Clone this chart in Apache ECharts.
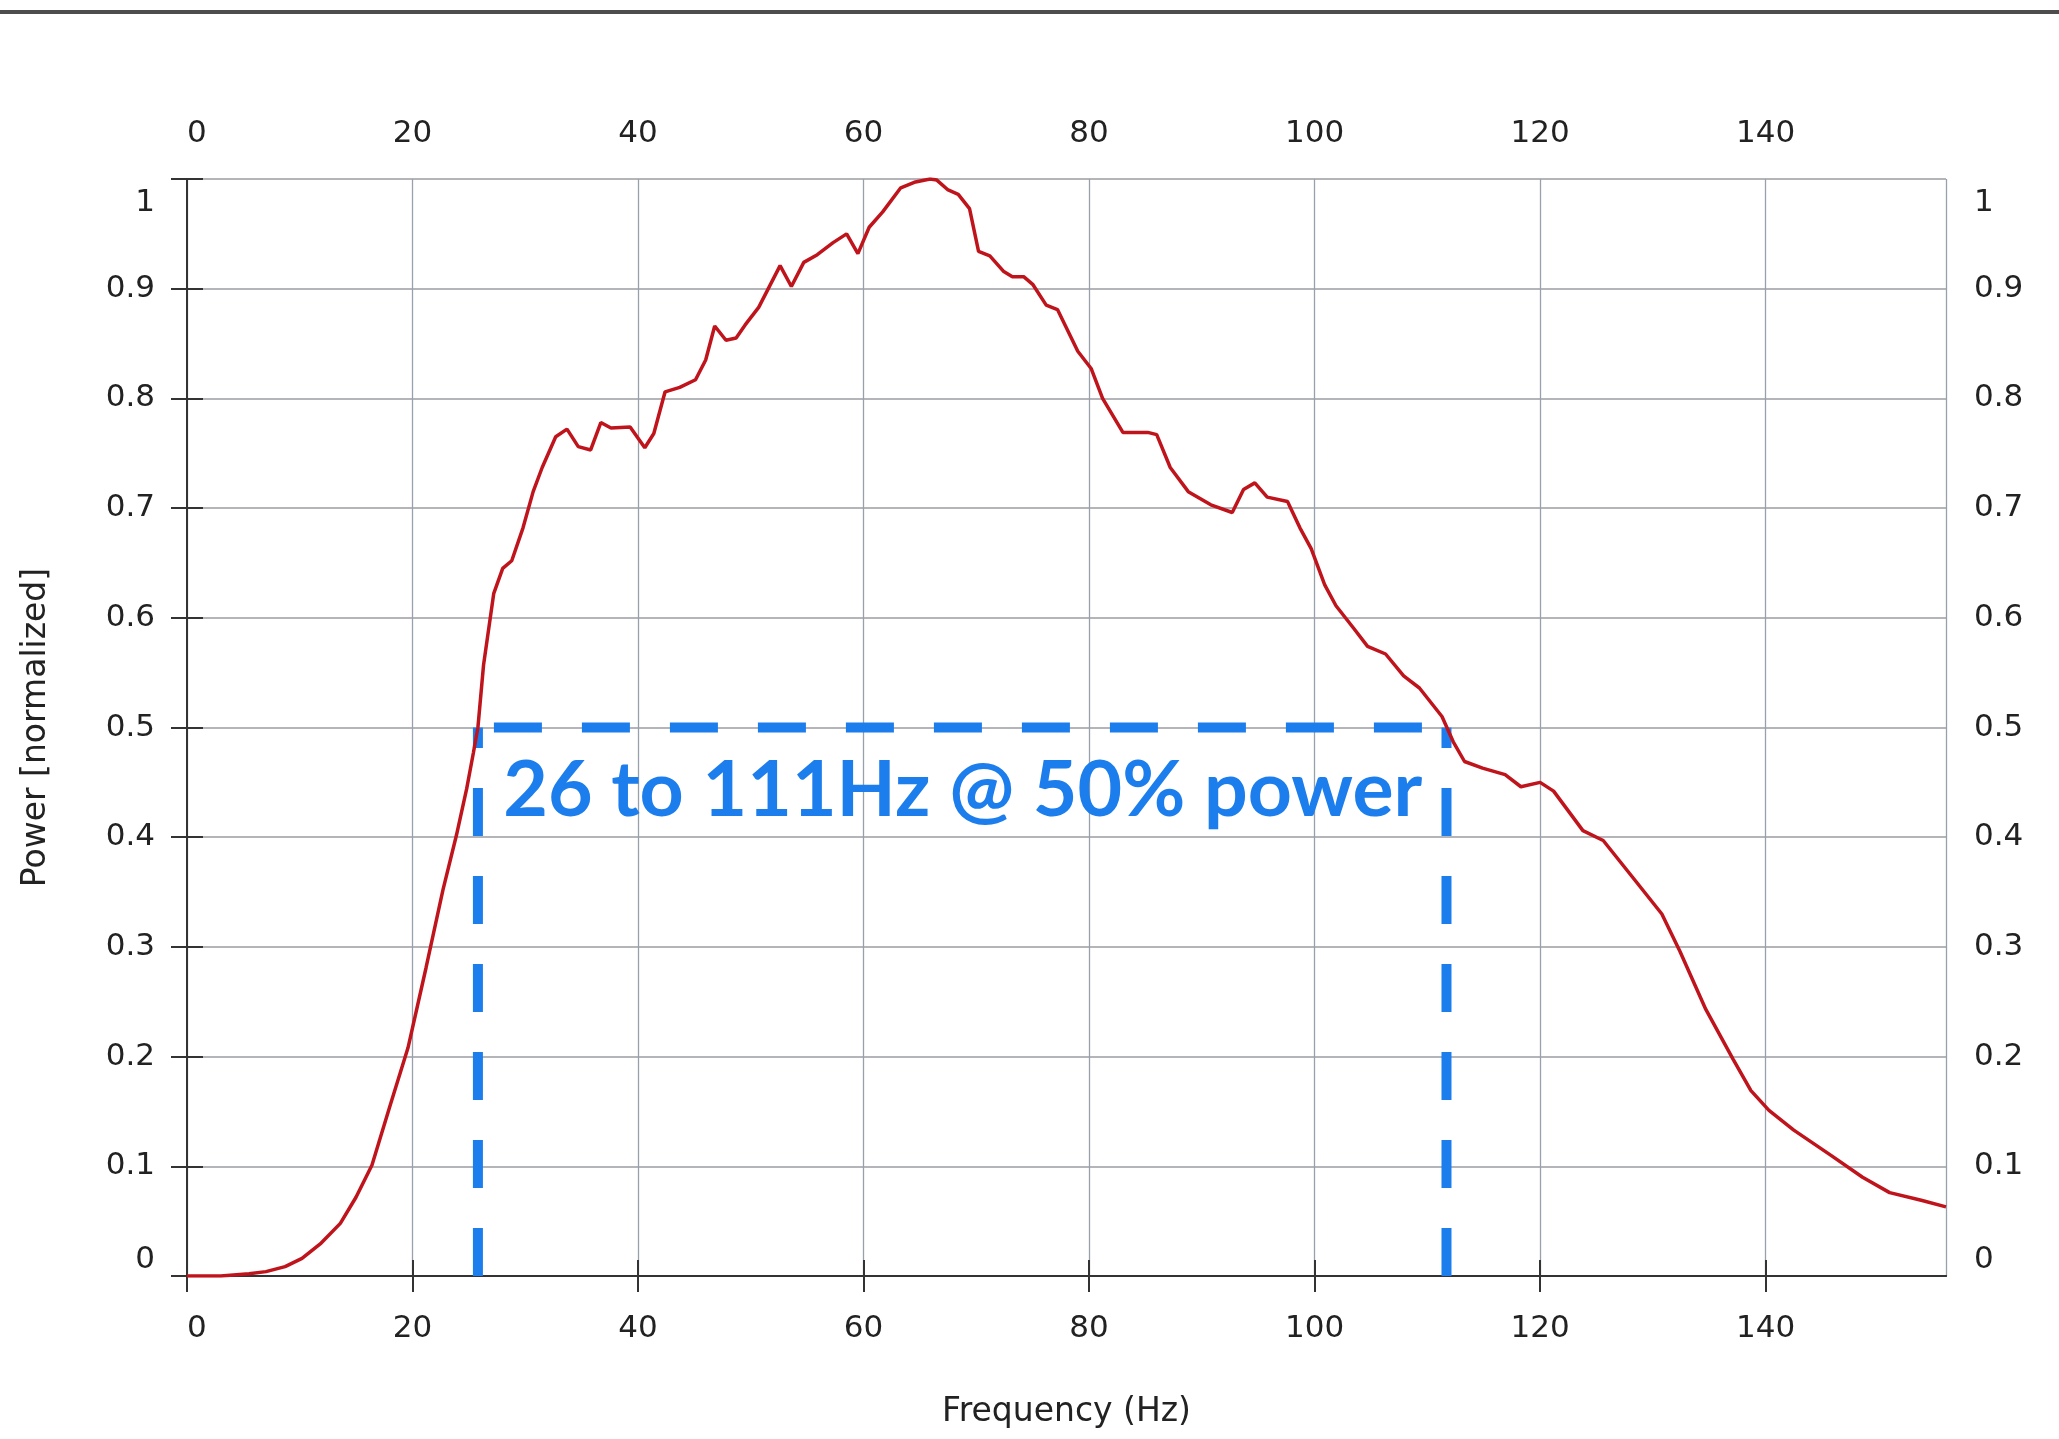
<!DOCTYPE html>
<html>
<head>
<meta charset="utf-8">
<title>Power vs Frequency</title>
<script src="https://cdn.jsdelivr.net/npm/echarts@6/dist/echarts.min.js"></script>
<style>
  html, body { margin: 0; padding: 0; background: #fff; }
  #chart { width: 2059px; height: 1439px; }
</style>
</head>
<body>
<div id="chart"></div>
<script>
// spectrum: frequency (Hz) and normalized power
const freq = [
  0, 3, 5.5, 7, 8.7, 10.2, 11.9, 13.6, 15, 16.4, 18, 19.6, 21.2, 22.7, 23.9, 24.8, 25.4, 25.8,
  26.3, 27.2, 28, 28.8, 29.8, 30.7, 31.5, 32.7, 33.7, 34.7, 35.8, 36.7, 37.6, 39.3, 40.6, 41.4,
  42.4, 43.7, 45.1, 46, 46.8, 47.8, 48.7, 49.5, 50.7, 52.6, 53.6, 54.7, 55.9, 57.3, 58.5, 59.5,
  60.5, 61.7, 63.3, 64.5, 65.9, 66.5, 67.5, 68.4, 69.4, 70.2, 71.2, 72.4, 73.2, 74.2, 75, 76.2,
  77.2, 79, 80.2, 81.2, 83, 85.2, 86, 87.2, 88.8, 90.8, 92.7, 93.7, 94.7, 95.8, 97.6, 98.7,
  99.7, 100.9, 101.9, 103.5, 104.7, 106.3, 107.9, 109.3, 111.3, 112.3, 113.3, 114.9, 116.9, 118.3,
  120, 121.2, 123.8, 125.6, 128.4, 130.8, 132.4, 134.7, 137.1, 138.7, 140.3, 142.5, 145.8, 148.6,
  151, 153.8, 156
];
const power = [
  0, 0, 0.002, 0.004, 0.0085, 0.016, 0.03, 0.048, 0.072, 0.101, 0.155, 0.208, 0.281, 0.352, 0.402, 0.444, 0.477, 0.5,
  0.557, 0.622, 0.645, 0.652, 0.682, 0.715, 0.737, 0.765, 0.772, 0.756, 0.753, 0.778, 0.773, 0.774, 0.755, 0.768,
  0.806, 0.81, 0.817, 0.835, 0.866, 0.853, 0.855, 0.867, 0.883, 0.921, 0.902, 0.924, 0.931, 0.942, 0.95, 0.932,
  0.956, 0.97, 0.992, 0.997, 1.0, 0.999, 0.99, 0.986, 0.973, 0.934, 0.93, 0.916, 0.911, 0.911, 0.904, 0.885,
  0.881, 0.843, 0.827, 0.8, 0.769, 0.769, 0.767, 0.737, 0.715, 0.703, 0.696, 0.717, 0.723, 0.71, 0.706, 0.682,
  0.663, 0.63, 0.611, 0.59, 0.574, 0.567, 0.547, 0.536, 0.51, 0.487, 0.469, 0.463, 0.457, 0.446,
  0.45, 0.442, 0.406, 0.397, 0.361, 0.33, 0.296, 0.243, 0.198, 0.169, 0.151, 0.133, 0.11, 0.09,
  0.076, 0.069, 0.063
];

// axis ranges
const xMin = 0, xMax = 156, xStep = 20;
const yMin = 0, yMax = 1, yStep = 0.1;

// half-power band annotation
const bandLow = 25.8;
const bandHigh = 111.7;
const bandLevel = 0.5;
const bandText = '26 to 111Hz @ 50% power';
const bandTextAt = [68.8, 0.442];

const FONT = 'DejaVu Sans';
const BLUE = '#1c7ded';
const RED = '#bf141c';
const AXIS = '#333333';

const chart = echarts.init(document.getElementById('chart'));

const axisLine = { show: true, lineStyle: { color: AXIS, width: 2 } };
const axisTick = { show: true, length: 16, lineStyle: { color: AXIS, width: 2 } };
const tickFont = { fontFamily: FONT, fontSize: 31, color: '#222' };
const nameFont = { fontFamily: FONT, fontSize: 33, color: '#222' };

function xAxisCfg(pos, grid) {
  return {
    type: 'value', position: pos, min: xMin, max: xMax, interval: xStep,
    axisLine, axisTick,
    axisLabel: { ...tickFont, margin: pos === 'bottom' ? 37 : 30, showMaxLabel: false, alignMinLabel: 'left' },
    splitLine: { show: grid, lineStyle: { color: '#97a0ab', width: 1.3 } }
  };
}
function yAxisCfg(pos, grid) {
  return {
    type: 'value', position: pos, min: yMin, max: yMax, interval: yStep,
    axisLine, axisTick,
    axisLabel: {
      ...tickFont, lineHeight: 32, padding: [8, 0, 0, 0], margin: pos === 'left' ? 32 : 28,
      verticalAlignMaxLabel: 'top', verticalAlignMinLabel: 'bottom'
    },
    splitLine: { show: grid, lineStyle: { color: '#b3b5b8', width: 2 } }
  };
}

const dash = { color: BLUE, width: 10, type: [48, 40], cap: 'butt' };

chart.setOption({
  animation: false,
  backgroundColor: '#fff',
  grid: { left: 187, right: 113, top: 179, bottom: 163, outerBoundsMode: 'none' },
  graphic: [{
    type: 'line', shape: { x1: 0, y1: 12, x2: 2059, y2: 12 },
    style: { stroke: '#4d4d4d', lineWidth: 4 }, silent: true
  }],
  xAxis: [
    { ...xAxisCfg('bottom', true), name: 'Frequency (Hz)', nameLocation: 'middle', nameGap: 120, nameTextStyle: nameFont },
    xAxisCfg('top', false)
  ],
  yAxis: [
    { ...yAxisCfg('left', true), name: 'Power [normalized]', nameLocation: 'middle', nameGap: 134, nameTextStyle: nameFont },
    yAxisCfg('right', false)
  ],
  series: [
    {
      type: 'line', silent: true, showSymbol: false, z: 3,
      data: [[bandLow, bandLevel], [bandHigh, bandLevel]],
      lineStyle: { ...dash, dashOffset: 72 }
    },
    {
      type: 'line', silent: true, showSymbol: false, z: 3,
      data: [[bandLow, 0], [bandLow, bandLevel]],
      lineStyle: dash
    },
    {
      type: 'line', silent: true, showSymbol: false, z: 3,
      data: [[bandHigh, 0], [bandHigh, bandLevel]],
      lineStyle: dash
    },
    {
      type: 'scatter', silent: true, symbolSize: 0, z: 4,
      itemStyle: { opacity: 1 },
      data: [bandTextAt],
      label: {
        show: true, position: 'inside', formatter: bandText, opacity: 1,
        fontFamily: 'Lato', fontWeight: 'bold', fontSize: 77, color: BLUE
      }
    },
    {
      type: 'line', silent: true, showSymbol: false, z: 5,
      data: freq.map((f, i) => [f, power[i]]),
      lineStyle: { color: RED, width: 3.5 }
    }
  ]
});
</script>
</body>
</html>
